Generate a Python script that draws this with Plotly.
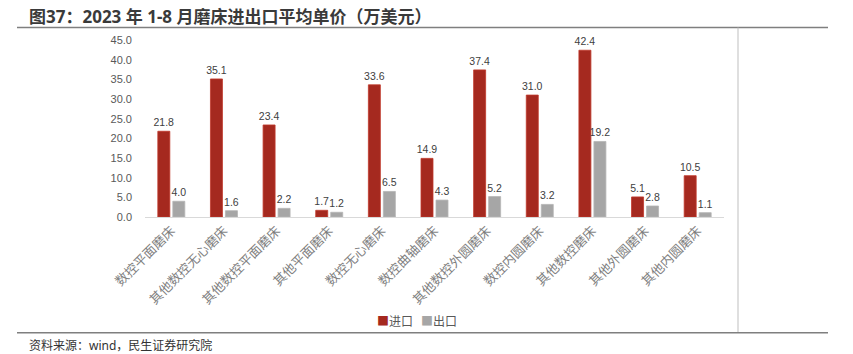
import plotly.graph_objects as go

categories = ["数控平面磨床", "其他数控无心磨床", "其他数控平面磨床", "其他平面磨床", "数控无心磨床",
              "数控曲轴磨床", "其他数控外圆磨床", "数控内圆磨床", "其他数控磨床", "其他外圆磨床", "其他内圆磨床"]
import_vals = [21.8, 35.1, 23.4, 1.7, 33.6, 14.9, 37.4, 31.0, 42.4, 5.1, 10.5]
export_vals = [4.0, 1.6, 2.2, 1.2, 6.5, 4.3, 5.2, 3.2, 19.2, 2.8, 1.1]
y_ticks = [0, 5, 10, 15, 20, 25, 30, 35, 40, 45]
series_names = ["进口", "出口"]
series_colors = ["#A5291F", "#A6A6A6"]

W, H = 853, 354
L, R, T, B = 145, 129, 39.5, 137
pw, ph = W - L - R, H - T - B

def px(x):
    return (x - L) / pw

def py(y):
    return (H - B - y) / ph

FONT = "Noto Sans CJK SC, Noto Sans, sans-serif"
TITLEFONT = "Noto Sans, Noto Sans CJK SC, sans-serif"
NUMFONT = "Liberation Sans, Arial, sans-serif"

fig = go.Figure()
for name, vals, col, lc in zip(series_names, [import_vals, export_vals], series_colors, ["#C0392B", "#B5B5B5"]):
    fig.add_trace(go.Bar(
        x=categories, y=vals, name=name,
        marker=dict(color=col, line=dict(color=lc, width=0.8)),
        texttemplate="%{y:.1f}", textposition="outside", cliponaxis=False,
        constraintext="none",
        textfont=dict(size=10.5, color="#404040", family=NUMFONT),
    ))

line_color = "#7F7F7F"
shapes = [
    dict(type="line", xref="paper", yref="paper", x0=px(17), x1=px(828), y0=py(27), y1=py(27),
         line=dict(color=line_color, width=1.5)),
    dict(type="line", xref="paper", yref="paper", x0=px(738), x1=px(738), y0=py(27), y1=py(333),
         line=dict(color="#BFBFBF", width=1)),
    dict(type="line", xref="paper", yref="paper", x0=px(17), x1=px(828), y0=py(333), y1=py(333),
         line=dict(color=line_color, width=1.5)),
]

legend_text = "   ".join(
    f"<span style='color:{c}'>■</span>{n}" for n, c in zip(series_names, series_colors)
)

annotations = [
    dict(text="<b>图37：2023 年 1-8 月磨床进出口平均单价（万美元）</b>", xref="paper", yref="paper",
         x=px(27), y=py(16), xanchor="left", yanchor="middle", showarrow=False,
         font=dict(size=17, color="#3A3A3A", family=TITLEFONT)),
    dict(text="资料来源：wind，民生证券研究院", xref="paper", yref="paper",
         x=px(27), y=py(346), xanchor="left", yanchor="middle", showarrow=False,
         font=dict(size=12, color="#333333", family=TITLEFONT)),
    dict(text=legend_text, xref="paper", yref="paper",
         x=px(417), y=py(321), xanchor="center", yanchor="middle", showarrow=False,
         font=dict(size=12, color="#595959", family=FONT)),
]

fig.update_layout(
    width=W, height=H,
    margin=dict(l=L, r=R, t=T, b=B, pad=0),
    paper_bgcolor="white", plot_bgcolor="white",
    barmode="group", bargap=0.43, bargroupgap=0.2,
    font=dict(family=FONT, color="#595959"),
    showlegend=False,
    shapes=shapes, annotations=annotations,
)
fig.update_xaxes(
    tickangle=-45, tickfont=dict(size=13, color="#7F7F7F", family=FONT),
    showline=True, linecolor="#D9D9D9", linewidth=1, showgrid=False, ticks="",
    automargin=False,
)
fig.update_yaxes(
    range=[0, 45], tickvals=y_ticks, ticktext=[f"{v:.1f}" for v in y_ticks],
    tickfont=dict(size=11, color="#595959", family=NUMFONT),
    showgrid=False, zeroline=False, showline=False, ticks="", ticklabelstandoff=12,
    automargin=False,
)

fig.write_html("out.html")
